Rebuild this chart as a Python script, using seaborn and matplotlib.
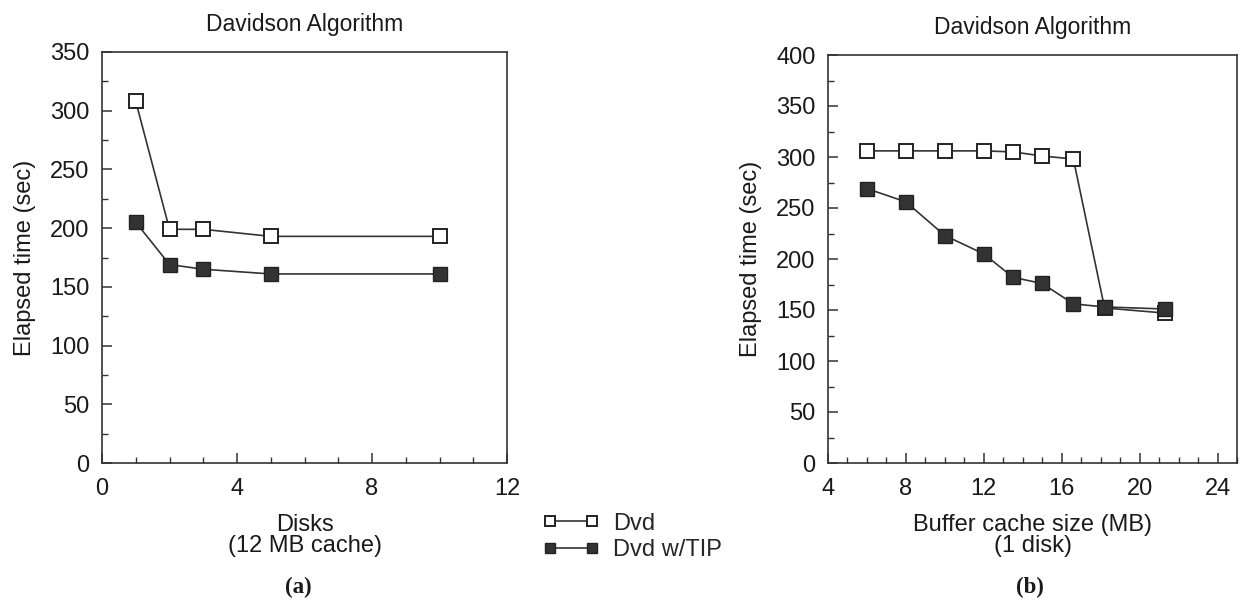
import matplotlib
matplotlib.use("Agg")
import matplotlib.pyplot as plt
import seaborn as sns
import pandas as pd
from matplotlib.ticker import MultipleLocator

# ---- data ----
disks = [1, 2, 3, 5, 10]
dvd_disks = [308, 199, 199, 193, 193]
tip_disks = [205, 169, 165, 161, 161]

cache_mb = [6.0, 8.0, 10.0, 12.0, 13.5, 15.0, 16.6, 18.2, 21.3]
dvd_cache = [306, 306, 306, 306, 305, 301, 298, 152, 147]
tip_cache = [269, 256, 223, 205, 182, 176, 156, 153, 151]

series_names = ["Dvd", "Dvd w/TIP"]
title_text = "Davidson Algorithm"
ylabel_text = "Elapsed time (sec)"
xlabel_a = "Disks\n(12 MB cache)"
xlabel_b = "Buffer cache size (MB)\n(1 disk)"

sns.set_style("ticks")
plt.rcParams['font.family'] = ['Liberation Sans', 'DejaVu Sans']

W, H = 1254, 613
fig = plt.figure(figsize=(W/100, H/100), dpi=100)
ax1 = fig.add_axes([102/W, 1-463/H, (507-102)/W, (463-52)/H])
ax2 = fig.add_axes([828/W, 1-463/H, (1237-828)/W, (463-55)/H])

def draw(ax, x, y1, y2):
    df1 = pd.DataFrame({"x": x, "y": y1})
    df2 = pd.DataFrame({"x": x, "y": y2})
    sns.lineplot(data=df1, x="x", y="y", ax=ax, color="#333333", lw=1.2,
                 marker="s", markersize=10.5, markerfacecolor="white",
                 markeredgecolor="#222222", markeredgewidth=1.4, label=series_names[0])
    sns.lineplot(data=df2, x="x", y="y", ax=ax, color="#333333", lw=1.2,
                 marker="s", markersize=10.5, markerfacecolor="#333333",
                 markeredgecolor="#222222", markeredgewidth=1.0, label=series_names[1])
    ax.get_legend().remove()

draw(ax1, disks, dvd_disks, tip_disks)
draw(ax2, cache_mb, dvd_cache, tip_cache)

for ax in (ax1, ax2):
    for s in ax.spines.values():
        s.set_linewidth(1.2)
        s.set_color("#333333")
        s.set_visible(True)
    ax.tick_params(which="both", direction="in", color="#333333", labelsize=17,
                   top=False, right=False, labelcolor="#1a1a1a")
    ax.tick_params(which="major", length=7, width=1.1)
    ax.tick_params(axis="y", which="major", pad=9)
    ax.tick_params(axis="x", which="major", pad=11)
    ax.tick_params(which="minor", length=4, width=1.0)
    ax.yaxis.set_minor_locator(MultipleLocator(25))
    ax.xaxis.set_minor_locator(MultipleLocator(1))
    ax.set_title(title_text, fontsize=16.5, pad=15, color="#1a1a1a")
    ax.set_ylabel(ylabel_text, fontsize=17, labelpad=10, color="#1a1a1a")

ax1.set_xlim(0, 12)
ax1.set_ylim(0, 350)
ax1.xaxis.set_major_locator(MultipleLocator(4))
ax1.yaxis.set_major_locator(MultipleLocator(50))
ax1.set_xlabel(xlabel_a, fontsize=17, linespacing=0.95, labelpad=10, color="#1a1a1a")

ax2.set_xlim(4, 25)
ax2.set_ylim(0, 400)
ax2.xaxis.set_major_locator(MultipleLocator(4))
ax2.yaxis.set_major_locator(MultipleLocator(50))
ax2.set_xlabel(xlabel_b, fontsize=17, linespacing=0.95, labelpad=10, color="#1a1a1a")

handles, labels = ax1.get_legend_handles_labels()
fig.legend(handles, labels, loc="upper left", bbox_to_anchor=(526/W, 1-496/H),
           frameon=False, fontsize=17, handlelength=2.4, handletextpad=0.6,
           labelspacing=0.2, borderpad=0.2, markerscale=0.75, numpoints=2)

fig.text(298/W, 1-587/H, "(a)", fontsize=16.5, fontweight="bold",
         family="Liberation Serif", ha="center", va="center", color="#1a1a1a")
fig.text(1030/W, 1-587/H, "(b)", fontsize=16.5, fontweight="bold",
         family="Liberation Serif", ha="center", va="center", color="#1a1a1a")

fig.savefig("out.png", dpi=100)
